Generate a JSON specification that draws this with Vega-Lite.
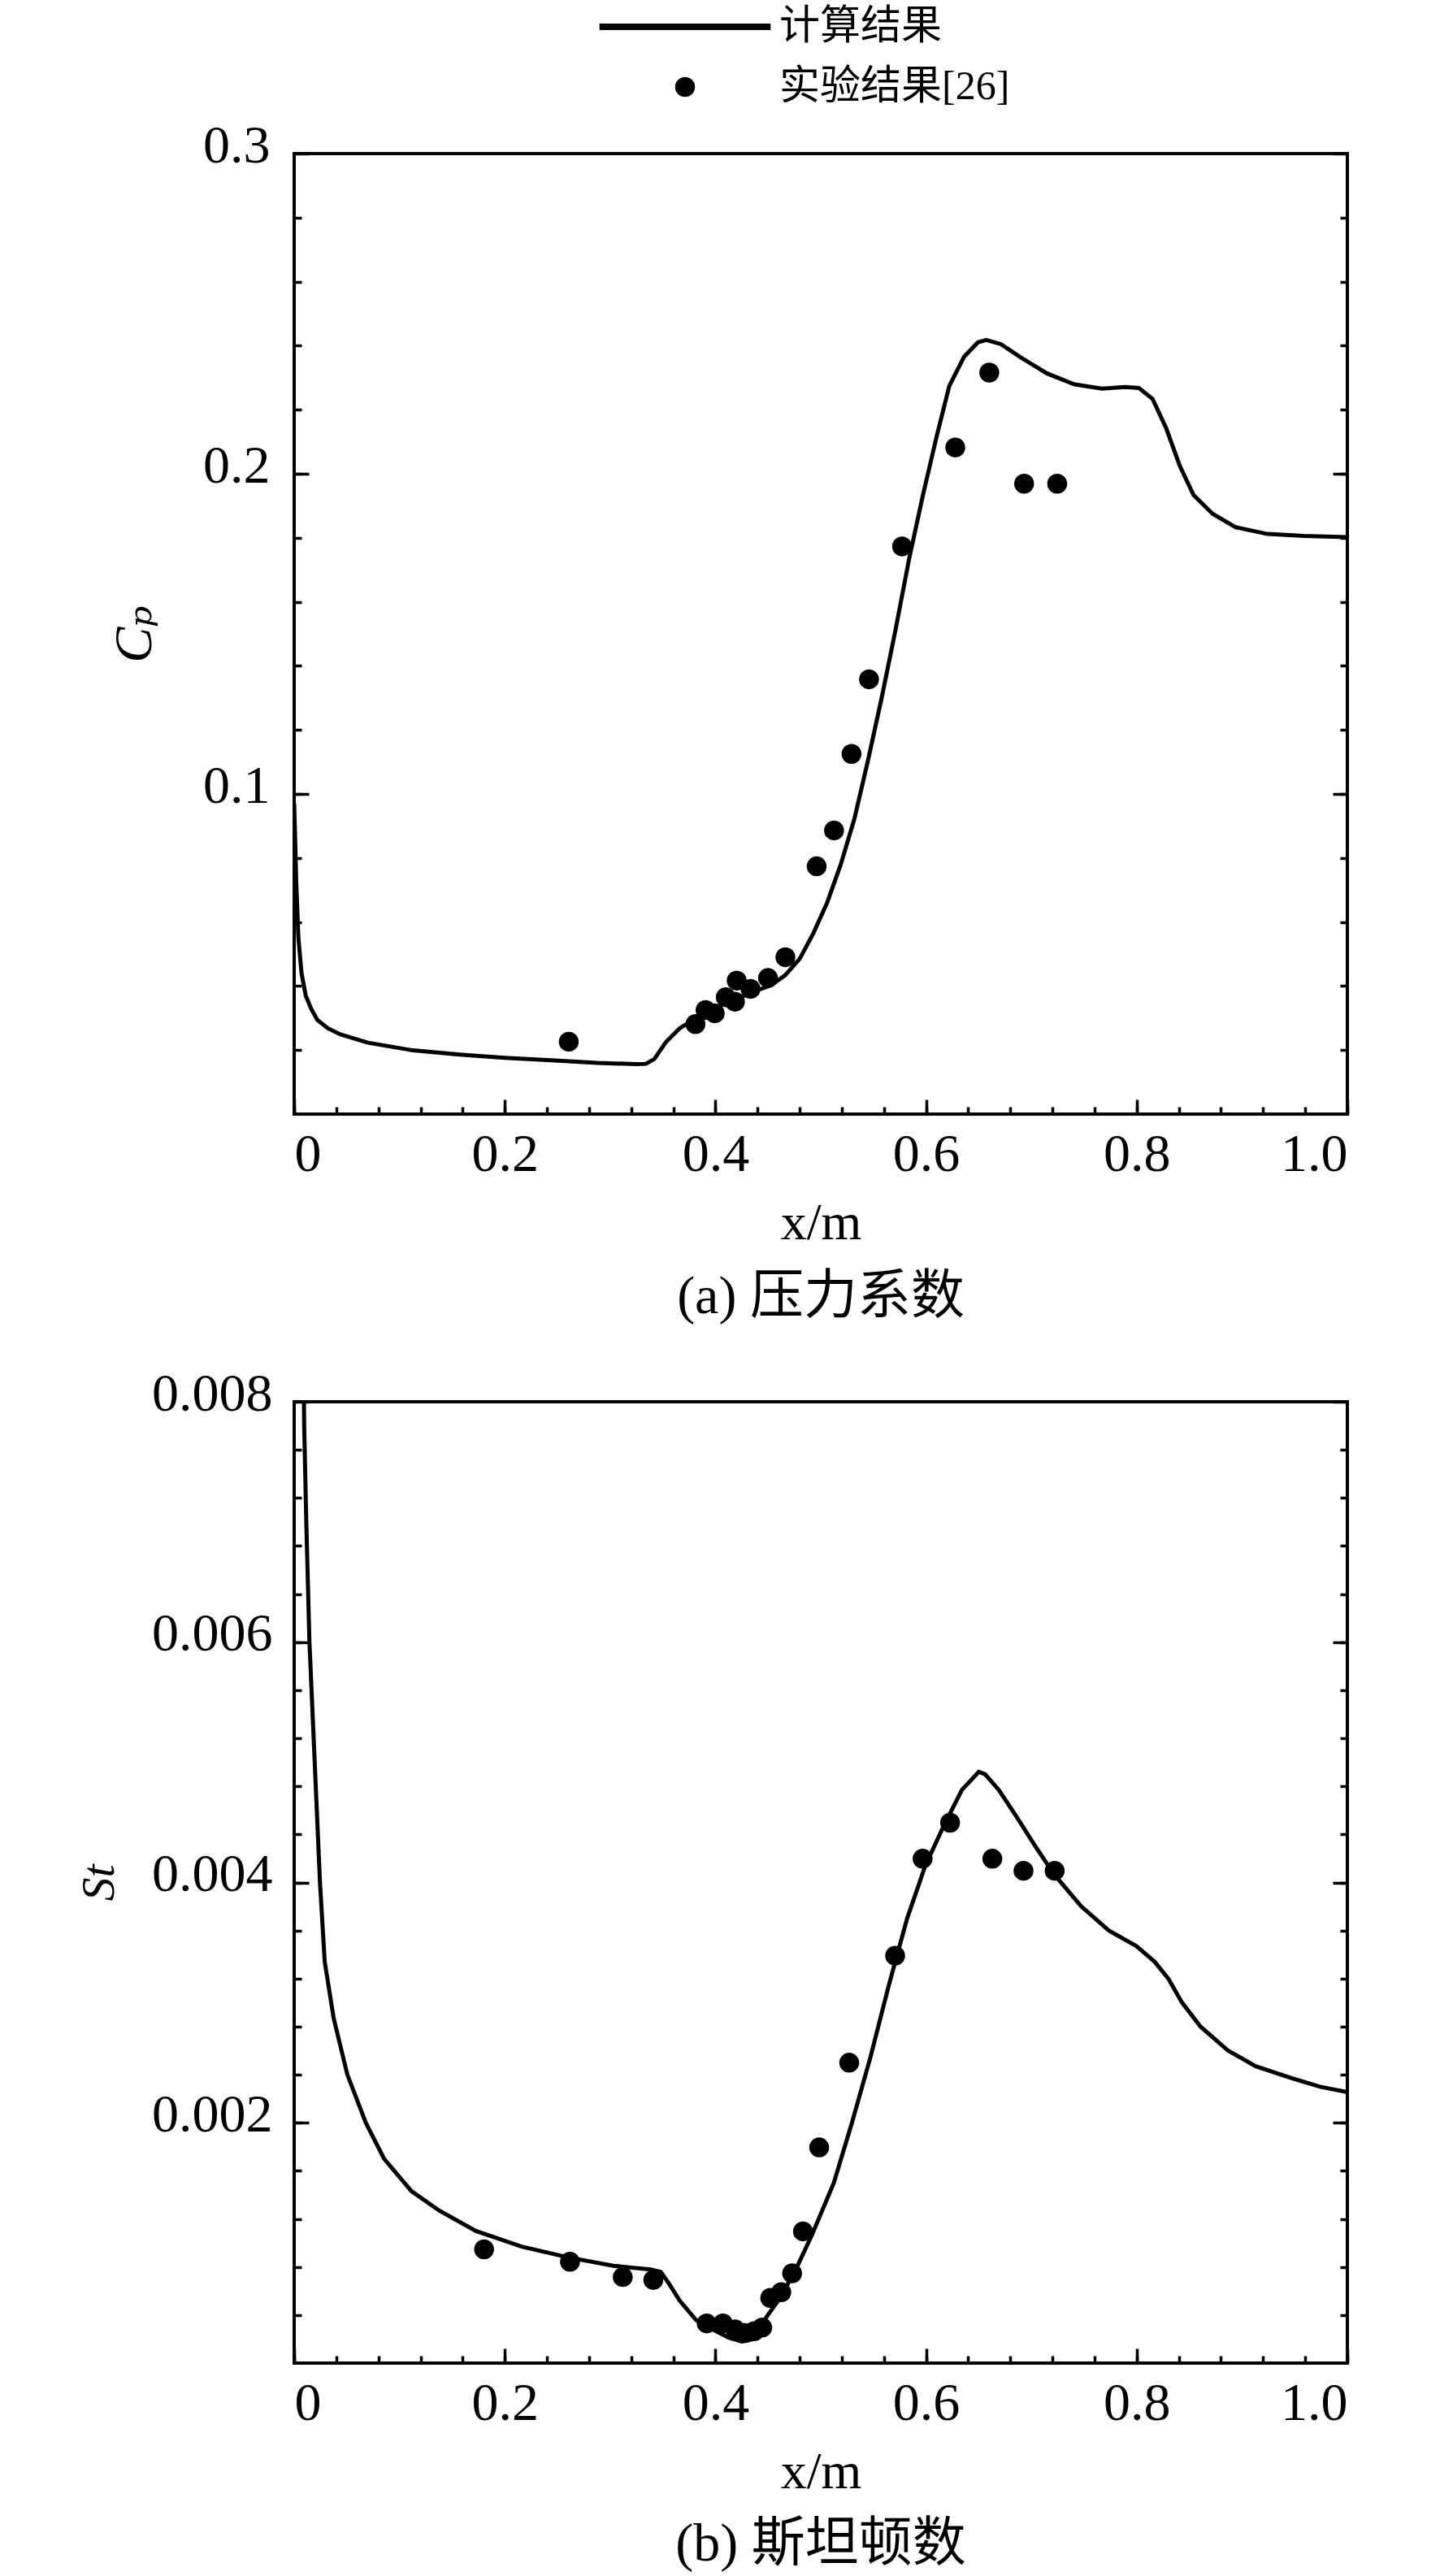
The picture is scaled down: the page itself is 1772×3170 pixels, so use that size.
{
  "$schema": "https://vega.github.io/schema/vega-lite/v6.json",
  "padding": {"left": 91, "top": 8, "right": 20, "bottom": 10},
  "spacing": 49,
  "datasets": {
    "cp_calc": [
      {"x": 0.0, "y": 0.097}, {"x": 0.001, "y": 0.085}, {"x": 0.002, "y": 0.072}, {"x": 0.004, "y": 0.055},
      {"x": 0.007, "y": 0.044}, {"x": 0.011, "y": 0.037}, {"x": 0.016, "y": 0.033}, {"x": 0.022, "y": 0.0294},
      {"x": 0.032, "y": 0.0268}, {"x": 0.044, "y": 0.0249}, {"x": 0.07, "y": 0.0223}, {"x": 0.113, "y": 0.0199},
      {"x": 0.157, "y": 0.0186}, {"x": 0.2, "y": 0.0176}, {"x": 0.244, "y": 0.0168}, {"x": 0.288, "y": 0.016},
      {"x": 0.325, "y": 0.0156}, {"x": 0.334, "y": 0.0157}, {"x": 0.342, "y": 0.0172}, {"x": 0.353, "y": 0.0225},
      {"x": 0.366, "y": 0.0268}, {"x": 0.384, "y": 0.0305}, {"x": 0.401, "y": 0.0333}, {"x": 0.419, "y": 0.0358},
      {"x": 0.436, "y": 0.0382}, {"x": 0.453, "y": 0.0403}, {"x": 0.466, "y": 0.0433}, {"x": 0.48, "y": 0.0485},
      {"x": 0.493, "y": 0.0565}, {"x": 0.506, "y": 0.066}, {"x": 0.519, "y": 0.078}, {"x": 0.532, "y": 0.0923},
      {"x": 0.545, "y": 0.1107}, {"x": 0.558, "y": 0.1303}, {"x": 0.571, "y": 0.1513}, {"x": 0.584, "y": 0.1736},
      {"x": 0.597, "y": 0.1933}, {"x": 0.61, "y": 0.2116}, {"x": 0.622, "y": 0.2274}, {"x": 0.636, "y": 0.2365},
      {"x": 0.649, "y": 0.241}, {"x": 0.657, "y": 0.2418}, {"x": 0.671, "y": 0.2405}, {"x": 0.689, "y": 0.2365},
      {"x": 0.715, "y": 0.2313}, {"x": 0.741, "y": 0.2279}, {"x": 0.767, "y": 0.2266}, {"x": 0.789, "y": 0.2271},
      {"x": 0.802, "y": 0.2268}, {"x": 0.815, "y": 0.2234}, {"x": 0.828, "y": 0.2142}, {"x": 0.841, "y": 0.2024},
      {"x": 0.854, "y": 0.1933}, {"x": 0.872, "y": 0.1875}, {"x": 0.894, "y": 0.1833}, {"x": 0.924, "y": 0.1812},
      {"x": 0.959, "y": 0.1806}, {"x": 1.0, "y": 0.1802}
    ],
    "cp_exp": [
      {"x": 0.2607, "y": 0.0226, "series": "实验结果[26]"}, {"x": 0.381, "y": 0.0281, "series": "实验结果[26]"},
      {"x": 0.3906, "y": 0.0325, "series": "实验结果[26]"}, {"x": 0.3993, "y": 0.0315, "series": "实验结果[26]"},
      {"x": 0.4098, "y": 0.0365, "series": "实验结果[26]"}, {"x": 0.4202, "y": 0.0417, "series": "实验结果[26]"},
      {"x": 0.4185, "y": 0.0351, "series": "实验结果[26]"}, {"x": 0.4333, "y": 0.0391, "series": "实验结果[26]"},
      {"x": 0.4499, "y": 0.0425, "series": "实验结果[26]"}, {"x": 0.4664, "y": 0.049, "series": "实验结果[26]"},
      {"x": 0.4961, "y": 0.0774, "series": "实验结果[26]"}, {"x": 0.5126, "y": 0.0886, "series": "实验结果[26]"},
      {"x": 0.5292, "y": 0.1125, "series": "实验结果[26]"}, {"x": 0.5458, "y": 0.1358, "series": "实验结果[26]"},
      {"x": 0.5772, "y": 0.1773, "series": "实验结果[26]"}, {"x": 0.6277, "y": 0.2082, "series": "实验结果[26]"},
      {"x": 0.66, "y": 0.2316, "series": "实验结果[26]"}, {"x": 0.6931, "y": 0.1969, "series": "实验结果[26]"},
      {"x": 0.7245, "y": 0.1969, "series": "实验结果[26]"}
    ],
    "st_calc": [
      {"x": 0.0075, "y": 0.0095}, {"x": 0.0095, "y": 0.0078}, {"x": 0.0115, "y": 0.007}, {"x": 0.0145, "y": 0.006},
      {"x": 0.0195, "y": 0.005}, {"x": 0.0245, "y": 0.004}, {"x": 0.029, "y": 0.00334}, {"x": 0.0375, "y": 0.00287},
      {"x": 0.0505, "y": 0.0024}, {"x": 0.068, "y": 0.002}, {"x": 0.0854, "y": 0.0017}, {"x": 0.1115, "y": 0.00143},
      {"x": 0.1376, "y": 0.00127}, {"x": 0.1725, "y": 0.0011}, {"x": 0.216, "y": 0.00097}, {"x": 0.26, "y": 0.00088},
      {"x": 0.303, "y": 0.00081}, {"x": 0.338, "y": 0.00078}, {"x": 0.348, "y": 0.00076}, {"x": 0.356, "y": 0.00066},
      {"x": 0.366, "y": 0.00052}, {"x": 0.3815, "y": 0.00036}, {"x": 0.3995, "y": 0.00027}, {"x": 0.413, "y": 0.00021},
      {"x": 0.425, "y": 0.00018}, {"x": 0.436, "y": 0.0002}, {"x": 0.4482, "y": 0.00038}, {"x": 0.461, "y": 0.00054},
      {"x": 0.4764, "y": 0.00078}, {"x": 0.4918, "y": 0.00107}, {"x": 0.5124, "y": 0.0015}, {"x": 0.5296, "y": 0.002},
      {"x": 0.547, "y": 0.00254}, {"x": 0.5645, "y": 0.00314}, {"x": 0.582, "y": 0.0037}, {"x": 0.5993, "y": 0.00414},
      {"x": 0.6167, "y": 0.00447}, {"x": 0.634, "y": 0.00477}, {"x": 0.65, "y": 0.00492}, {"x": 0.656, "y": 0.0049},
      {"x": 0.669, "y": 0.00477}, {"x": 0.6864, "y": 0.00454}, {"x": 0.7038, "y": 0.0043}, {"x": 0.7213, "y": 0.00407},
      {"x": 0.7474, "y": 0.0038}, {"x": 0.7735, "y": 0.0036}, {"x": 0.7997, "y": 0.00347}, {"x": 0.817, "y": 0.00334},
      {"x": 0.83, "y": 0.0032}, {"x": 0.843, "y": 0.003}, {"x": 0.8606, "y": 0.0028}, {"x": 0.8868, "y": 0.0026},
      {"x": 0.9129, "y": 0.00247}, {"x": 0.9477, "y": 0.00237}, {"x": 0.974, "y": 0.0023}, {"x": 1.0, "y": 0.002255}
    ],
    "st_exp": [
      {"x": 0.1803, "y": 0.000947}, {"x": 0.2619, "y": 0.000843}, {"x": 0.312, "y": 0.000716}, {"x": 0.341, "y": 0.000692},
      {"x": 0.3917, "y": 0.00033}, {"x": 0.4071, "y": 0.00033}, {"x": 0.4187, "y": 0.00028}, {"x": 0.4277, "y": 0.00025},
      {"x": 0.4367, "y": 0.000265}, {"x": 0.4444, "y": 0.000296}, {"x": 0.452, "y": 0.000542}, {"x": 0.4625, "y": 0.00059},
      {"x": 0.4728, "y": 0.000747}, {"x": 0.4831, "y": 0.001096}, {"x": 0.4985, "y": 0.001795}, {"x": 0.527, "y": 0.0025},
      {"x": 0.5706, "y": 0.00339}, {"x": 0.5967, "y": 0.004197}, {"x": 0.6228, "y": 0.004497}, {"x": 0.6629, "y": 0.004197},
      {"x": 0.6925, "y": 0.004097}, {"x": 0.7221, "y": 0.004097}
    ]
  },
  "vconcat": [
    {
      "width": 1296,
      "height": 1182,
      "title": {"text": "(a) 压力系数", "orient": "bottom", "frame": "group", "anchor": "middle", "offset": 27},
      "resolve": {"axis": {"x": "independent", "y": "independent"}},
      "layer": [
        {
          "data": {"name": "cp_calc"},
          "mark": {"type": "line", "color": "black", "strokeWidth": 5, "clip": true},
          "encoding": {
            "x": {"field": "x", "type": "quantitative", "scale": {"domain": [0, 1]},
              "axis": {"orient": "bottom", "values": [0, 0.2, 0.4, 0.6, 0.8, 1.0], "tickSize": -18, "labelPadding": 35,
                "labelExpr": "datum.value == 0 ? '0' : format(datum.value, '.1f')", "title": "x/m", "titlePadding": 20, "titleFontSize": 64}},
            "y": {"field": "y", "type": "quantitative", "scale": {"domain": [0, 0.3]},
              "axis": {"orient": "left", "values": [0.1, 0.2, 0.3], "tickSize": -18, "labelPadding": 48, "labelOffset": -10,
                "format": ".1f", "title": "Cₚ", "titleFontSize": 66, "titleFontStyle": "italic", "titlePadding": 50}}
          }
        },
        {
          "data": {"name": "cp_exp"},
          "mark": {"type": "point", "filled": true, "color": "black", "size": 600, "opacity": 1},
          "encoding": {
            "x": {"field": "x", "type": "quantitative",
              "axis": {"orient": "bottom", "values": [0, 0.04, 0.08, 0.12, 0.16, 0.2, 0.24, 0.28, 0.32, 0.36, 0.4, 0.44, 0.48, 0.52, 0.56, 0.6, 0.64, 0.68, 0.72, 0.76, 0.8, 0.84, 0.88, 0.92, 0.96, 1.0],
                "tickSize": -9, "labels": false, "title": null}},
            "y": {"field": "y", "type": "quantitative",
              "axis": {"orient": "left", "values": [0.02, 0.04, 0.06, 0.08, 0.1, 0.12, 0.14, 0.16, 0.18, 0.2, 0.22, 0.24, 0.26, 0.28],
                "tickSize": -9, "labels": false, "title": null}},
            "shape": {"field": "series", "type": "nominal",
              "scale": {"domain": ["计算结果", "实验结果[26]"], "range": ["M-8.6,-0.33H8.6V0.33H-8.6Z", "circle"]},
              "legend": {"title": null, "orient": "none", "legendX": 456, "legendY": -181, "symbolSize": 600,
                "symbolFillColor": "black", "symbolStrokeWidth": 0, "labelOffset": 91, "rowPadding": 24, "labelLimit": 0,
                "labelFont": "Liberation Serif, Noto Sans CJK SC", "labelFontSize": 50, "labelColor": "black"}}
          }
        },
        {
          "data": {"name": "cp_exp"},
          "mark": {"type": "point", "opacity": 0},
          "encoding": {
            "x": {"field": "x", "type": "quantitative", "axis": null},
            "y": {"field": "y", "type": "quantitative",
              "axis": {"orient": "right", "values": [0.1, 0.2, 0.3], "tickSize": -18, "labels": false, "title": null}}
          }
        },
        {
          "data": {"name": "cp_exp"},
          "mark": {"type": "point", "opacity": 0},
          "encoding": {
            "x": {"field": "x", "type": "quantitative", "axis": null},
            "y": {"field": "y", "type": "quantitative",
              "axis": {"orient": "right", "values": [0.02, 0.04, 0.06, 0.08, 0.1, 0.12, 0.14, 0.16, 0.18, 0.2, 0.22, 0.24, 0.26, 0.28],
                "tickSize": -9, "labels": false, "title": null}}
          }
        }
      ]
    },
    {
      "width": 1296,
      "height": 1183,
      "title": {"text": "(b) 斯坦顿数", "orient": "bottom", "frame": "group", "anchor": "middle", "offset": 25},
      "resolve": {"axis": {"x": "independent", "y": "independent"}},
      "layer": [
        {
          "data": {"name": "st_calc"},
          "mark": {"type": "line", "color": "black", "strokeWidth": 5, "clip": true},
          "encoding": {
            "x": {"field": "x", "type": "quantitative", "scale": {"domain": [0, 1]},
              "axis": {"orient": "bottom", "values": [0, 0.2, 0.4, 0.6, 0.8, 1.0], "tickSize": -18, "labelPadding": 35,
                "labelExpr": "datum.value == 0 ? '0' : format(datum.value, '.1f')", "title": "x/m", "titlePadding": 20, "titleFontSize": 64}},
            "y": {"field": "y", "type": "quantitative", "scale": {"domain": [0, 0.008]},
              "axis": {"orient": "left", "values": [0.002, 0.004, 0.006, 0.008], "tickSize": -18, "labelPadding": 45, "labelOffset": -10,
                "format": ".3f", "title": "St", "titleFontSize": 58, "titleFontStyle": "italic", "titlePadding": 35}}
          }
        },
        {
          "data": {"name": "st_exp"},
          "mark": {"type": "point", "filled": true, "color": "black", "size": 600, "opacity": 1},
          "encoding": {
            "x": {"field": "x", "type": "quantitative",
              "axis": {"orient": "bottom", "values": [0, 0.04, 0.08, 0.12, 0.16, 0.2, 0.24, 0.28, 0.32, 0.36, 0.4, 0.44, 0.48, 0.52, 0.56, 0.6, 0.64, 0.68, 0.72, 0.76, 0.8, 0.84, 0.88, 0.92, 0.96, 1.0],
                "tickSize": -9, "labels": false, "title": null}},
            "y": {"field": "y", "type": "quantitative",
              "axis": {"orient": "left", "values": [0.0004, 0.0008, 0.0012, 0.0016, 0.002, 0.0024, 0.0028, 0.0032, 0.0036, 0.004, 0.0044, 0.0048, 0.0052, 0.0056, 0.006, 0.0064, 0.0068, 0.0072, 0.0076],
                "tickSize": -9, "labels": false, "title": null}}
          }
        },
        {
          "data": {"name": "st_exp"},
          "mark": {"type": "point", "opacity": 0},
          "encoding": {
            "x": {"field": "x", "type": "quantitative", "axis": null},
            "y": {"field": "y", "type": "quantitative",
              "axis": {"orient": "right", "values": [0.002, 0.004, 0.006, 0.008], "tickSize": -18, "labels": false, "title": null}}
          }
        },
        {
          "data": {"name": "st_exp"},
          "mark": {"type": "point", "opacity": 0},
          "encoding": {
            "x": {"field": "x", "type": "quantitative", "axis": null},
            "y": {"field": "y", "type": "quantitative",
              "axis": {"orient": "right", "values": [0.0004, 0.0008, 0.0012, 0.0016, 0.002, 0.0024, 0.0028, 0.0032, 0.0036, 0.004, 0.0044, 0.0048, 0.0052, 0.0056, 0.006, 0.0064, 0.0068, 0.0072, 0.0076],
                "tickSize": -9, "labels": false, "title": null}}
          }
        }
      ]
    }
  ],
  "config": {
    "background": "white",
    "view": {"stroke": "black", "strokeWidth": 4},
    "axis": {
      "domain": false, "grid": false, "ticks": true,
      "tickColor": "black", "tickWidth": 3.5,
      "labelFont": "Liberation Serif", "labelFontSize": 66, "labelColor": "black",
      "titleFont": "Liberation Serif, DejaVu Serif", "titleColor": "black", "titleFontWeight": "normal"
    },
    "title": {"font": "Liberation Serif, Noto Sans CJK SC", "fontSize": 66, "fontWeight": "normal", "color": "black"}
  }
}
